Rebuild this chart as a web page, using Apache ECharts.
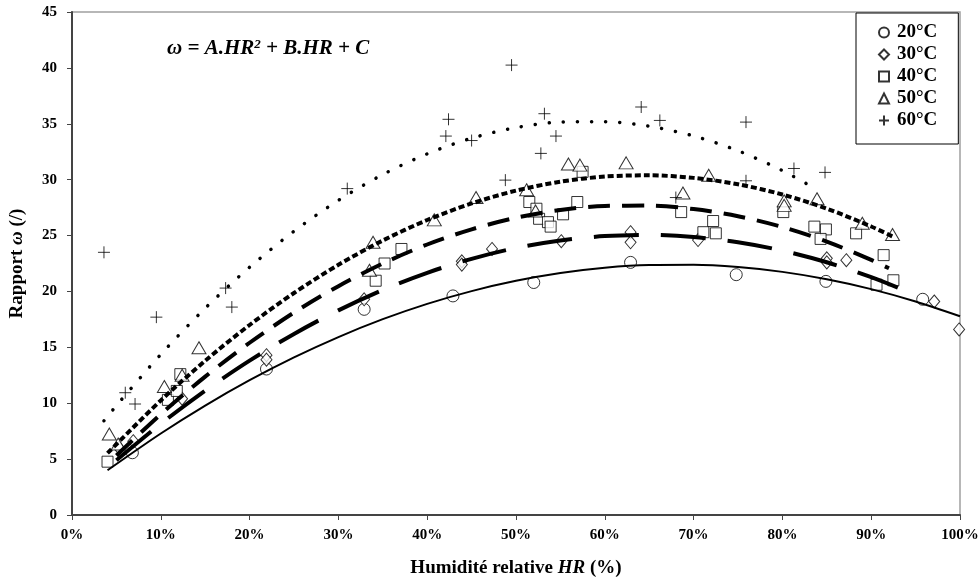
<!DOCTYPE html>
<html><head><meta charset="utf-8">
<script src="https://cdn.jsdelivr.net/npm/echarts@6/dist/echarts.min.js"></script>
<style>html,body{margin:0;padding:0;background:#fff}#c{width:979px;height:581px}</style>
</head><body><div id="c"></div>
<script>
// ---- measured points (HR %, omega) ----
const hr20 = [6.8, 21.9, 32.9, 42.9, 52.0, 62.9, 74.8, 84.9, 95.8];
const w20  = [5.57, 13.06, 18.4, 19.6, 20.8, 22.6, 21.5, 20.9, 19.3];

const hr30 = [5.3, 6.9, 12.4, 21.9, 21.9, 32.9, 43.9, 43.9, 47.3, 55.1, 62.9, 62.9, 70.5, 85.0, 85.0, 87.2, 97.1, 99.9];
const w30  = [6.0, 6.6, 10.4, 14.3, 13.9, 19.3, 22.7, 22.4, 23.8, 24.5, 25.3, 24.4, 24.6, 22.96, 22.6, 22.8, 19.1, 16.6];

const hr40 = [4.0, 10.8, 11.8, 12.2, 34.2, 35.2, 37.1, 51.5, 52.3, 52.6, 53.6, 53.9, 55.3, 56.9, 57.5, 68.6, 71.1, 72.2, 72.5, 80.1, 83.6, 84.9, 84.3, 88.3, 91.4, 92.5, 90.6];
const w40  = [4.77, 10.3, 11.1, 12.6, 20.96, 22.5, 23.8, 28.0, 27.4, 26.5, 26.2, 25.8, 26.9, 28.0, 30.7, 27.1, 25.3, 26.3, 25.2, 27.1, 25.8, 25.55, 24.7, 25.2, 23.25, 21.0, 20.6];

const hr50 = [4.2, 5.2, 10.4, 12.4, 14.3, 33.5, 33.9, 40.8, 45.5, 51.2, 52.2, 55.9, 57.2, 62.4, 68.8, 71.7, 80.2, 80.2, 83.9, 89.0, 92.4];
const w50  = [7.24, 6.35, 11.5, 12.5, 14.97, 21.9, 24.4, 26.4, 28.4, 29.1, 27.2, 31.4, 31.3, 31.5, 28.8, 30.4, 28.1, 27.7, 28.3, 26.1, 25.1];

const hr60 = [3.6, 6.0, 7.1, 9.5, 17.3, 18.0, 31.0, 42.1, 42.4, 45.0, 48.8, 49.5, 52.8, 53.2, 54.5, 64.1, 66.2, 68.0, 75.9, 75.9, 81.3, 84.8];
const w60  = [23.5, 10.94, 9.93, 17.7, 20.3, 18.6, 29.2, 33.9, 35.4, 33.5, 29.96, 40.25, 32.35, 35.9, 33.9, 36.5, 35.3, 28.4, 35.15, 29.9, 31.0, 30.65];

// ---- trend curves ----
const fx20 = [4, 10, 15, 20, 25, 30, 35, 40, 45, 50, 55, 60, 65, 70, 75, 80, 85, 90, 95, 100];
const fy20 = [4.0, 7.29, 9.79, 12.06, 14.1, 15.92, 17.52, 18.89, 20.03, 20.95, 21.65, 22.12, 22.36, 22.38, 22.18, 21.75, 21.09, 20.21, 19.1, 17.78];

const fx30 = [5, 10, 15, 20, 25, 30, 35, 40, 45, 50, 55, 60, 65, 70, 75, 80, 85, 90, 93];
const fy30 = [4.9, 8.16, 11.13, 13.81, 16.2, 18.31, 20.14, 21.67, 22.92, 23.89, 24.56, 24.95, 25.06, 24.87, 24.4, 23.65, 22.61, 21.28, 20.34];

const fx40 = [5, 10, 15, 20, 25, 30, 35, 40, 45, 50, 55, 60, 65, 70, 75, 80, 85, 90, 92];
const fy40 = [5.32, 9.02, 12.38, 15.41, 18.11, 20.47, 22.5, 24.2, 25.56, 26.59, 27.29, 27.65, 27.68, 27.37, 26.73, 25.76, 24.46, 22.82, 22.07];

const fx50 = [4, 10, 15, 20, 25, 30, 35, 40, 45, 50, 55, 60, 65, 70, 75, 80, 85, 90, 92.5];
const fy50 = [5.53, 10.25, 13.8, 17.0, 19.86, 22.38, 24.56, 26.39, 27.87, 29.02, 29.82, 30.28, 30.39, 30.16, 29.59, 28.67, 27.41, 25.81, 24.88];

const fx60 = [3.6, 5, 10, 15, 20, 25, 30, 35, 40, 45, 50, 55, 60, 65, 70, 75, 80, 84];
const fy60 = [8.43, 9.79, 14.37, 18.5, 22.17, 25.39, 28.15, 30.46, 32.31, 33.71, 34.66, 35.15, 35.19, 34.78, 33.91, 32.59, 30.81, 29.06];

const seriesNames = ['20°C', '30°C', '40°C', '50°C', '60°C'];
const xTicks = [0, 10, 20, 30, 40, 50, 60, 70, 80, 90, 100];

const FONT = 'Liberation Serif';
const zip = (a, b) => a.map((v, i) => [v, b[i]]);
const PLUS = 'path://M0,6L12,6M6,0L6,12';

const mk = { color: '#fff', borderColor: '#000', borderWidth: 1 };
function sc(name, xs, ys, symbol, size) {
  return { name, type: 'scatter', data: zip(xs, ys), symbol, symbolSize: size,
    itemStyle: mk, z: 3, emphasis: { disabled: true } };
}
function ln(name, xs, ys, width, dash, cap) {
  return { name, type: 'line', data: zip(xs, ys), showSymbol: false, symbol: 'none', smooth: 0.3,
    lineStyle: { color: '#000', width, type: dash, cap: cap || 'butt' }, z: 4, silent: true };
}

const chart = echarts.init(document.getElementById('c'), null, { renderer: 'canvas' });
chart.setOption({
  animation: false,
  backgroundColor: '#fff',
  textStyle: { fontFamily: FONT },
  grid: { left: 72, right: 19, top: 12, bottom: 66, containLabel: false, outerBoundsMode: 'none',
    show: true, borderColor: '#a0a0a0', borderWidth: 1.5, backgroundColor: 'transparent' },
  xAxis: {
    type: 'value', min: 0, max: 100, interval: 10,
    axisLine: { show: true, onZero: false, lineStyle: { color: '#444', width: 2 } },
    axisTick: { show: true, inside: false, length: 5, lineStyle: { color: '#444', width: 1 } },
    splitLine: { show: false },
    axisLabel: { formatter: v => xTicks.includes(v) ? v + '%' : '', fontFamily: FONT, fontWeight: 'bold', fontSize: 15, color: '#000', margin: 13 },
    name: '{b|Humidité relative }{i|HR}{b| (%)}', nameLocation: 'middle', nameGap: 44,
    nameTextStyle: { rich: {
      b: { fontFamily: FONT, fontWeight: 'bold', fontSize: 19, color: '#000' },
      i: { fontFamily: FONT, fontWeight: 'bold', fontStyle: 'italic', fontSize: 19, color: '#000' } } }
  },
  yAxis: {
    type: 'value', min: 0, max: 45, interval: 5,
    axisLine: { show: true, onZero: false, lineStyle: { color: '#444', width: 2 } },
    axisTick: { show: true, inside: false, length: 5, lineStyle: { color: '#444', width: 1 } },
    splitLine: { show: false },
    axisLabel: { fontFamily: FONT, fontWeight: 'bold', fontSize: 15, color: '#000', margin: 15 },
    name: '{b|Rapport }{i|ω}{b| (/)}', nameLocation: 'middle', nameGap: 45, nameRotate: 90,
    nameTextStyle: { rich: {
      b: { fontFamily: FONT, fontWeight: 'bold', fontSize: 19, color: '#000' },
      i: { fontFamily: FONT, fontWeight: 'bold', fontStyle: 'italic', fontSize: 19, color: '#000' } } }
  },
  legend: {
    data: seriesNames, orient: 'vertical', left: 856, top: 13,
    borderColor: '#000', borderWidth: 1, backgroundColor: '#fff',
    padding: [10, 21, 14, 22], itemGap: 3, itemWidth: 10, itemHeight: 10,
    textStyle: { fontFamily: FONT, fontWeight: 'bold', fontSize: 19, color: '#000', padding: [0, 0, 0, 3] },
    selectedMode: false
  },
  graphic: [{
    type: 'text', left: 167, top: 38,
    style: {
      text: '{a|ω = A.HR}{s|2}{a| + B.HR + C}',
      rich: {
        a: { fontFamily: FONT, fontWeight: 'bold', fontStyle: 'italic', fontSize: 21, fill: '#000' },
        s: { fontFamily: FONT, fontWeight: 'bold', fontStyle: 'italic', fontSize: 13, fill: '#000', verticalAlign: 'top', padding: [0, 0, 8, 0] }
      }
    }
  }],
  series: [
    sc('20°C', hr20, w20, 'circle', 12),
    sc('30°C', hr30, w30, 'diamond', [11, 13]),
    sc('40°C', hr40, w40, 'rect', 11),
    sc('50°C', hr50, w50, 'triangle', [14, 12]),
    sc('60°C', hr60, w60, PLUS, 12),
    ln('fit20', fx20, fy20, 2, 'solid'),
    ln('fit30', fx30, fy30, 4, [45, 22]),
    ln('fit40', fx40, fy40, 4, [22, 12]),
    ln('fit50', fx50, fy50, 4, [6, 3]),
    ln('fit60', fx60, fy60, 3.5, [0.1, 14], 'round')
  ]
});
</script>
</body></html>
